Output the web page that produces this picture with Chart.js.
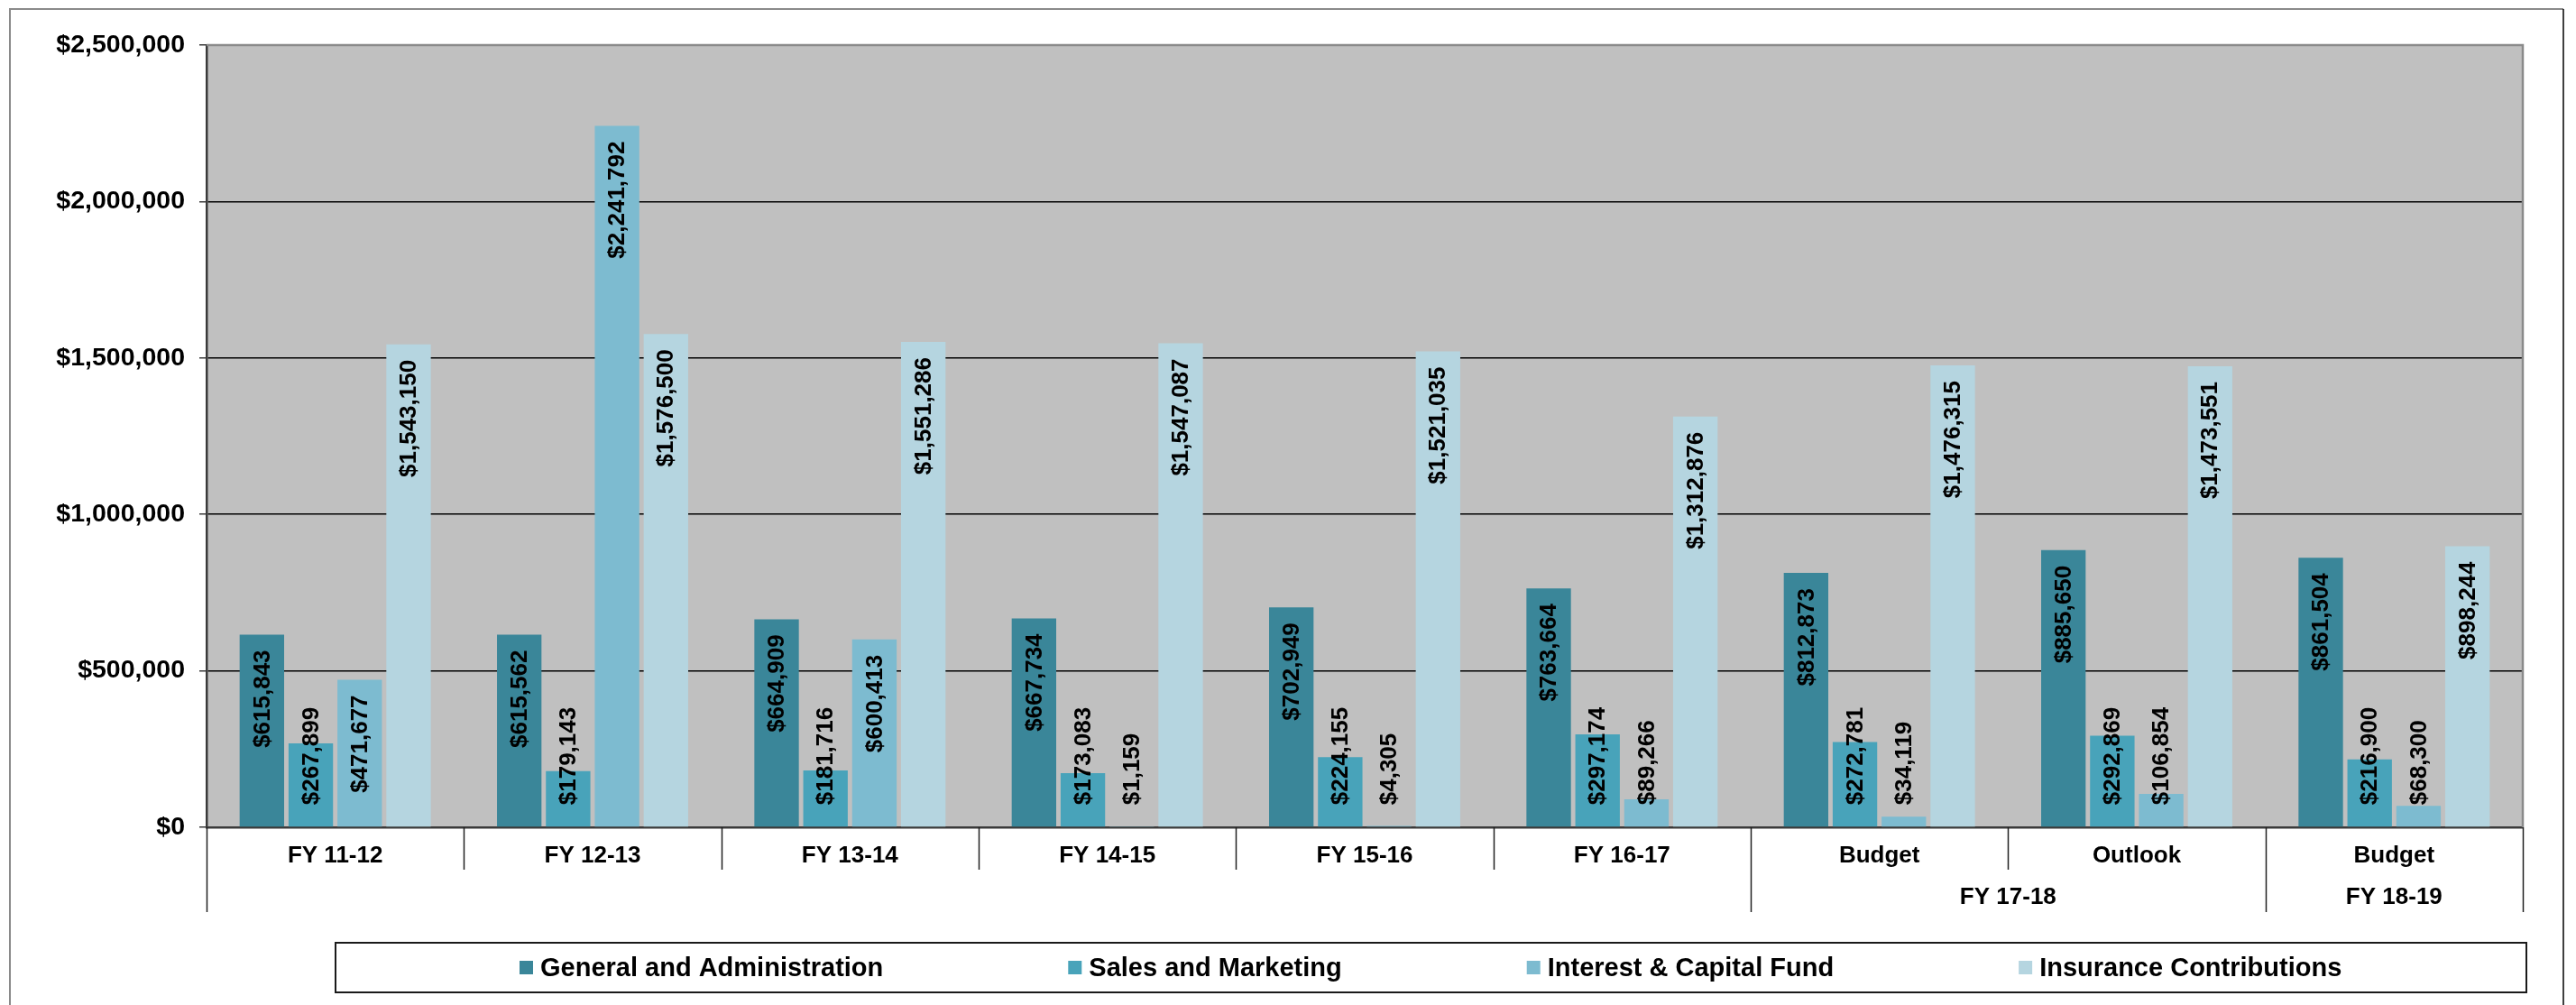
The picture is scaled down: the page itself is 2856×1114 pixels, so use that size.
<!DOCTYPE html>
<html>
<head>
<meta charset="utf-8">
<script src="https://cdn.jsdelivr.net/npm/chart.js@4.4.1/dist/chart.umd.min.js"></script>
<style>
  html, body { margin: 0; padding: 0; background: #fff; }
  canvas { display: block; }
</style>
</head>
<body>
<canvas id="fundChart" width="2856" height="1114"></canvas>
<script>
var categories = ['FY 11-12', 'FY 12-13', 'FY 13-14', 'FY 14-15', 'FY 15-16', 'FY 16-17', 'Budget', 'Outlook', 'Budget'];
// second row under the category axis and the category index range each one covers
var groupLabels = ['FY 17-18', 'FY 18-19'];
var groupSpans = [[6, 7], [8, 8]];

var seriesNames = ['General and Administration', 'Sales and Marketing', 'Interest & Capital Fund', 'Insurance Contributions'];
var genAdmin = [615843, 615562, 664909, 667734, 702949, 763664, 812873, 885650, 861504];
var salesMarketing = [267899, 179143, 181716, 173083, 224155, 297174, 272781, 292869, 216900];
var interestCapital = [471677, 2241792, 600413, 1159, 4305, 89266, 34119, 106854, 68300];
var insurance = [1543150, 1576500, 1551286, 1547087, 1521035, 1312876, 1476315, 1473551, 898244];
var yTicks = [0, 500000, 1000000, 1500000, 2000000, 2500000];

var colors = ['#3a8699', '#48a3ba', '#7dbbd0', '#b5d5e0'];
var FONT = '"Liberation Sans", Arial, sans-serif';

function money(v) {
  return '$' + v.toLocaleString('en-US');
}

// grey plot background, frame lines, second category row, legend box
var frame = {
  id: 'frame',
  beforeDraw: function(chart) {
    var c = chart.ctx, a = chart.chartArea;
    c.save();
    c.fillStyle = '#c0c0c0';
    c.fillRect(a.left, a.top, a.right - a.left, a.bottom - a.top);
    c.restore();
  },
  afterDraw: function(chart) {
    var c = chart.ctx, a = chart.chartArea, x = chart.scales.x;
    var n = categories.length;
    var w = (x.right - x.left) / n;
    var rowEnd = a.bottom + 47, axisEnd = a.bottom + 94;
    c.save();

    // plot edge top / right
    c.strokeStyle = '#8a8a8a';
    c.lineWidth = 2.5;
    c.beginPath();
    c.moveTo(a.left, a.top);
    c.lineTo(a.right, a.top);
    c.lineTo(a.right, a.bottom);
    c.stroke();

    // category dividers, long ones where a group starts or ends
    var longAt = { 0: true };
    groupSpans.forEach(function(s) { longAt[s[0]] = true; longAt[s[1] + 1] = true; });
    c.strokeStyle = '#202020';
    c.lineWidth = 1.5;
    for (var i = 0; i <= n; i++) {
      var px = Math.round(x.left + i * w) + 0.5;
      c.beginPath();
      c.moveTo(px, a.bottom);
      c.lineTo(px, longAt[i] || i === n ? axisEnd : rowEnd);
      c.stroke();
    }

    // second row labels
    c.fillStyle = '#000';
    c.font = 'bold 26px ' + FONT;
    c.textAlign = 'center';
    c.textBaseline = 'middle';
    groupLabels.forEach(function(g, k) {
      var s = groupSpans[k];
      var cx = (x.getPixelForValue(s[0]) + x.getPixelForValue(s[1])) / 2;
      c.fillText(g, cx, a.bottom + 78);
    });

    // legend
    var bx = 372, by = 1045, bw = 2801 - 372, bh = 55;
    c.strokeStyle = '#1a1a1a';
    c.lineWidth = 2;
    c.strokeRect(bx, by, bw, bh);
    c.font = 'bold 29px ' + FONT;
    c.textAlign = 'left';
    var gap = 205, mark = 15, tgap = 8;
    var lx = bx + 204, ly = by + bh / 2;
    chart.data.datasets.forEach(function(ds) {
      var tw = c.measureText(ds.label).width;
      c.fillStyle = ds.backgroundColor;
      c.fillRect(lx, ly - mark / 2, mark, mark);
      c.fillStyle = '#000';
      c.fillText(ds.label, lx + mark + tgap, ly + 1);
      lx += mark + tgap + tw + gap;
    });

    // outer border
    c.strokeStyle = '#8a8a8a';
    c.lineWidth = 2;
    c.beginPath();
    c.moveTo(11, 1114);
    c.lineTo(11, 10);
    c.lineTo(2842, 10);
    c.stroke();
    c.strokeStyle = '#000';
    c.lineWidth = 1.5;
    c.beginPath();
    c.moveTo(2842, 10);
    c.lineTo(2842, 1114);
    c.stroke();
    c.restore();
  }
};

// rotated value labels near the top of each bar, kept clear of the axis
var barLabels = {
  id: 'barLabels',
  afterDatasetsDraw: function(chart) {
    var c = chart.ctx;
    c.save();
    c.font = 'bold 26px ' + FONT;
    c.fillStyle = '#000';
    c.textAlign = 'right';
    c.textBaseline = 'middle';
    chart.data.datasets.forEach(function(ds, i) {
      chart.getDatasetMeta(i).data.forEach(function(bar, j) {
        var txt = money(ds.data[j]);
        var len = c.measureText(txt).width;
        var top = bar.y + 17;
        var lim = bar.base - 24;
        if (top + len > lim) top = lim - len;
        c.save();
        c.translate(bar.x + 1, top);
        c.rotate(-Math.PI / 2);
        c.fillText(txt, 0, 0);
        c.restore();
      });
    });
    c.restore();
  }
};

var seriesData = [genAdmin, salesMarketing, interestCapital, insurance];

new Chart(document.getElementById('fundChart'), {
  type: 'bar',
  data: {
    labels: categories,
    datasets: seriesData.map(function(d, k) {
      return {
        label: seriesNames[k],
        data: d,
        backgroundColor: colors[k],
        borderWidth: 0,
        barPercentage: 0.91,
        categoryPercentage: 0.76
      };
    })
  },
  options: {
    responsive: false,
    devicePixelRatio: 1,
    animation: false,
    layout: { padding: { top: 50, right: 59, bottom: 103, left: 0 } },
    plugins: {
      legend: { display: false },
      tooltip: { enabled: false }
    },
    scales: {
      x: {
        offset: true,
        grid: { display: false, drawTicks: false },
        border: { display: true, color: '#3a3a3a', width: 2.5 },
        ticks: {
          color: '#000',
          font: { family: FONT, size: 26, weight: 'bold' },
          padding: 16,
          maxRotation: 0,
          autoSkip: false
        },
        afterFit: function(s) { s.height = 94; }
      },
      y: {
        min: 0,
        max: 2500000,
        afterBuildTicks: function(s) {
          s.ticks = yTicks.map(function(v) { return { value: v }; });
        },
        grid: {
          color: '#000',
          lineWidth: 1.5,
          tickLength: 8,
          tickColor: '#3a3a3a'
        },
        border: { display: true, color: '#3a3a3a', width: 2.5 },
        ticks: {
          color: '#000',
          font: { family: FONT, size: 28.5, weight: 'bold' },
          padding: 16,
          callback: function(v) { return money(v); }
        },
        afterFit: function(s) { s.width = 229; }
      }
    }
  },
  plugins: [frame, barLabels]
});
</script>
</body>
</html>
